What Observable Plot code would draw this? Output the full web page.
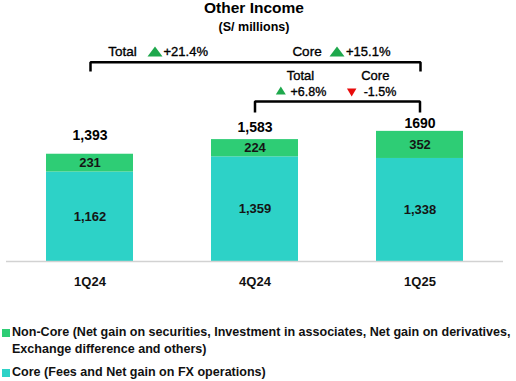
<!DOCTYPE html>
<html>
<head>
<meta charset="utf-8">
<script src="https://cdn.jsdelivr.net/npm/d3@7"></script>
<script src="https://cdn.jsdelivr.net/npm/@observablehq/plot@0.6"></script>
<style>
  html, body { margin: 0; padding: 0; background: #fff; }
  #wrap { position: relative; width: 516px; height: 381px; overflow: hidden; font-family: "Liberation Sans", Arial, sans-serif; color: #000; }
  #title { position: absolute; left: 0; top: 0; width: 508px; text-align: center; font-weight: bold; font-size: 15.5px; line-height: 15px; }
  #subtitle { position: absolute; left: 0; top: 20px; width: 508px; text-align: center; font-weight: bold; font-size: 12.5px; line-height: 14px; }
  #chart { position: absolute; left: 0; top: 40px; }
  .leg { position: absolute; left: 12px; font-weight: bold; line-height: 17px; white-space: pre-line; color: #111; }
  .sw { position: absolute; left: 2px; width: 8px; height: 8px; }
</style>
</head>
<body>
<div id="wrap">
  <div id="title"></div>
  <div id="subtitle"></div>
  <div id="chart"></div>
  <div class="sw" id="sw0" style="top:329px"></div>
  <div class="leg" id="leg0" style="top:324px"></div>
  <div class="sw" id="sw1" style="top:369px"></div>
  <div class="leg" id="leg1" style="top:364px"></div>
</div>
<script>
// ---- data ----
const title = "Other Income";
const subtitle = "(S/ millions)";
const quarters = ["1Q24", "4Q24", "1Q25"];
const coreValues = [1162, 1359, 1338];
const nonCoreValues = [231, 224, 352];
const totalLabels = ["1,393", "1,583", "1690"];
const seriesNames = ["Core", "Non-Core"];
const legendLabels = [
  "Non-Core (Net gain on securities, Investment in associates, Net gain on derivatives,\nExchange difference and others)",
  "Core (Fees and Net gain on FX operations)"
];
const yoyLabels = ["Total", "+21.4%", "Core", "+15.1%"];
const qoqLabels = ["Total", "+6.8%", "Core", "-1.5%"];

// ---- style ----
const colors = {"Core": "#2dd2c7", "Non-Core": "#2ecd75"};
const upColor = "#1ea84c";
const downColor = "#e80b0b";
const font = "'Liberation Sans', Arial, sans-serif";
const legendFont = "'Liberation Sans Narrow', 'Liberation Sans', Arial, sans-serif";
const totalDy = {"1Q24": -19, "4Q24": -12.5, "1Q25": -7.5};

// layout levels in value units
const L = {
  yoyText: 2721, yoyLine: 2588, yoyTick: 2468,
  qoqHead: 2412, qoqVal: 2200, qoqLine: 2078, qoqTick: 1935
};

document.getElementById("title").textContent = title;
document.getElementById("subtitle").textContent = subtitle;

const rows = [];
quarters.forEach((q, i) => {
  rows.push({quarter: q, series: "Core", value: coreValues[i]});
  rows.push({quarter: q, series: "Non-Core", value: nonCoreValues[i]});
});
const totals = quarters.map((q, i) => ({quarter: q, total: coreValues[i] + nonCoreValues[i], label: totalLabels[i]}));

const brackets = [
  {id: "yoy", from: quarters[0], to: quarters[2], level: L.yoyLine, tick: L.yoyTick, dx: 0.5},
  {id: "qoq", from: quarters[1], to: quarters[2], level: L.qoqLine, tick: L.qoqTick, dx: 0}
];

function tri(w, h, down) {
  return {draw(ctx) {
    const s = down ? -1 : 1;
    ctx.moveTo(-w / 2, s * h / 2);
    ctx.lineTo(w / 2, s * h / 2);
    ctx.lineTo(0, -s * h / 2);
    ctx.closePath();
  }};
}

function label(q, y, text, dx, opts = {}) {
  return Plot.text([{q, y, text}], {x: "q", y: "y", text: "text", dx, fontSize: 13.5, lineAnchor: "middle", fill: "#000", stroke: "#000", strokeWidth: 0.35, ...opts});
}
function marker(q, y, dx, w, h, down, fill) {
  return Plot.dot([{q, y}], {x: "q", y: "y", dx, symbol: tri(w, h, down), fill, stroke: "none", r: 5});
}

const marks = [
  Plot.barY(rows, Plot.stackY({x: "quarter", y: "value", fill: "series"})),
  Plot.text(rows, Plot.stackY({x: "quarter", y: "value", text: d => d3.format(",")(d.value), fontWeight: "bold", fontSize: 13, fill: "#151515", lineAnchor: "middle"})),
  Plot.ruleY([0], {stroke: "#d2d2d2", strokeWidth: 1.5}),
  Plot.axisX({tickSize: 0, tickPadding: 15, fontWeight: "bold", fontSize: 13, label: null, fill: "#111"})
];
quarters.forEach(q => {
  marks.push(Plot.text(totals.filter(d => d.quarter === q), {x: "quarter", y: "total", text: "label", dy: totalDy[q], fontWeight: "bold", fontSize: 14, lineAnchor: "middle", fill: "#000"}));
});
brackets.forEach(b => {
  const pts = [
    {x: b.from, y: b.tick}, {x: b.from, y: b.level}, {x: b.to, y: b.level}, {x: b.to, y: b.tick}
  ];
  marks.push(Plot.line(pts, {x: "x", y: "y", stroke: "#000", strokeWidth: 2.5, dx: b.dx, curve: "linear", strokeLinejoin: "miter", strokeLinecap: "butt"}));
});
// YoY annotation
marks.push(label(quarters[0], L.yoyText, yoyLabels[0], 32.5));
marks.push(marker(quarters[0], L.yoyText + 5, 65, 15, 10, false, upColor));
marks.push(label(quarters[0], L.yoyText, yoyLabels[1], 73.5, {textAnchor: "start", fontSize: 13}));
marks.push(label(quarters[2], L.yoyText, yoyLabels[2], -113));
marks.push(marker(quarters[2], L.yoyText + 5, -83, 15, 10, false, upColor));
marks.push(label(quarters[2], L.yoyText, yoyLabels[3], -74, {textAnchor: "start", fontSize: 13}));
// QoQ annotation
marks.push(label(quarters[1], L.qoqHead, qoqLabels[0], 45.5, {fontSize: 13}));
marks.push(marker(quarters[1], L.qoqVal + 20, 25.8, 10, 8, false, upColor));
marks.push(label(quarters[1], L.qoqVal, qoqLabels[1], 35.5, {fontSize: 12.5, textAnchor: "start"}));
marks.push(label(quarters[2], L.qoqHead, qoqLabels[2], -44.7, {fontSize: 13}));
marks.push(marker(quarters[2], L.qoqVal - 5, -68.3, 9.5, 8, true, downColor));
marks.push(label(quarters[2], L.qoqVal, qoqLabels[3], -56.3, {fontSize: 12.5, textAnchor: "start"}));

const chart = Plot.plot({
  width: 516,
  height: 252,
  marginLeft: 6,
  marginRight: 13,
  marginTop: 0,
  marginBottom: 31,
  x: {domain: quarters, paddingInner: 0.474, paddingOuter: 0.242, axis: null},
  y: {domain: [0, 2870], axis: null},
  color: {domain: seriesNames, range: seriesNames.map(s => colors[s])},
  style: {fontFamily: font, color: "#000", background: "transparent", overflow: "visible"},
  marks
});
document.getElementById("chart").appendChild(chart);

// legend
const legOrder = ["Non-Core", "Core"];
const c = document.createElement("canvas").getContext("2d");
c.font = `bold 12px ${legendFont}`;
const firstLine = legendLabels[0].split("\n")[0];
const w = c.measureText(firstLine).width;
const legSize = Math.min(13.5, 12 * 499 / w);
legOrder.forEach((s, i) => {
  document.getElementById("sw" + i).style.background = colors[s];
  const el = document.getElementById("leg" + i);
  el.textContent = legendLabels[i];
  el.style.fontFamily = legendFont;
  el.style.fontSize = legSize + "px";
});
</script>
</body>
</html>
